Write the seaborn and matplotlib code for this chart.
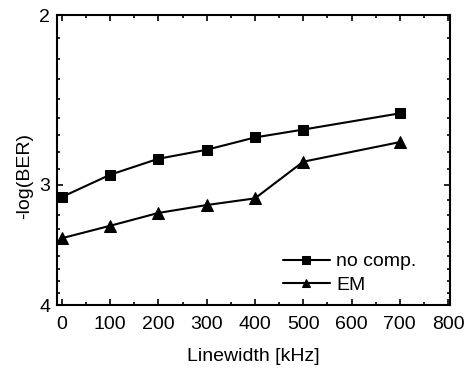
import numpy as np
import pandas as pd
import matplotlib
matplotlib.use("Agg")
import matplotlib.pyplot as plt
import matplotlib.ticker as mticker
import seaborn as sns

# data
linewidth_khz = [0, 100, 200, 300, 400, 500, 700]
no_comp = [3.09, 2.93, 2.82, 2.76, 2.68, 2.63, 2.53]
em = [3.41, 3.31, 3.21, 3.15, 3.10, 2.84, 2.71]
series_names = ["no comp.", "EM"]
x_ticks = [0, 100, 200, 300, 400, 500, 600, 700, 800]
y_ticks = [2, 3, 4]

df = pd.DataFrame({
    "Linewidth": linewidth_khz * 2,
    "BER": no_comp + em,
    "series": [series_names[0]] * len(no_comp) + [series_names[1]] * len(em),
})

sns.set_style("ticks")
plt.rcParams['font.family'] = ['Liberation Sans', 'DejaVu Sans']
plt.rcParams['text.color'] = 'black'
plt.rcParams['axes.labelcolor'] = 'black'
plt.rcParams['xtick.labelcolor'] = 'black'
plt.rcParams['ytick.labelcolor'] = 'black'

fig = plt.figure(figsize=(4.68, 3.70), dpi=100)
ax = fig.add_axes([57 / 468, 65 / 370, 393 / 468, 290 / 370])

sns.lineplot(data=df, x="Linewidth", y="BER", hue="series", style="series",
             hue_order=series_names, style_order=series_names,
             palette=["black", "black"], markers={"no comp.": "s", "EM": "^"},
             dashes=False, linewidth=1.5, markeredgecolor="black",
             ax=ax, sort=False)
for line, ms in zip(ax.lines, [7, 8]):
    line.set_markersize(ms)

# log y axis, upside down (2 on top)
ax.set_yscale("log")
ax.set_ylim(4, 2)
ax.yaxis.set_major_locator(mticker.FixedLocator(y_ticks))
ax.yaxis.set_major_formatter(mticker.FixedFormatter([str(v) for v in y_ticks]))
minor_y = [2 + k / 9 for k in range(1, 9)] + [3 + k / 9 for k in range(1, 9)]
ax.yaxis.set_minor_locator(mticker.FixedLocator(minor_y))
ax.yaxis.set_minor_formatter(mticker.NullFormatter())

ax.set_xlim(-10, 804)
ax.set_xticks(x_ticks)
ax.xaxis.set_minor_locator(mticker.MultipleLocator(50))

for side in ["top", "right", "bottom", "left"]:
    ax.spines[side].set_visible(True)
    ax.spines[side].set_linewidth(1.5)
    ax.spines[side].set_color("black")

ax.tick_params(which="both", direction="in", top=True, right=True, color="black", width=1.2)
ax.tick_params(which="major", length=4.5, labelsize=14)
ax.tick_params(which="minor", length=2.5)
ax.tick_params(axis="x", which="major", pad=8)
ax.tick_params(axis="y", which="major", pad=5)

ax.set_xlabel("Linewidth [kHz]", fontsize=14, labelpad=11)
ax.set_ylabel("-log(BER)", fontsize=14)
ax.yaxis.set_label_coords(-0.062, 0.445)

handles, labels = ax.get_legend_handles_labels()
ax.legend(handles, labels, loc="upper left", bbox_to_anchor=(0.575, 0.18),
          frameon=False, fontsize=14, borderpad=0, borderaxespad=0,
          handlelength=2.4, handletextpad=0.35, labelspacing=0.3)

fig.savefig("out.png", dpi=100)
